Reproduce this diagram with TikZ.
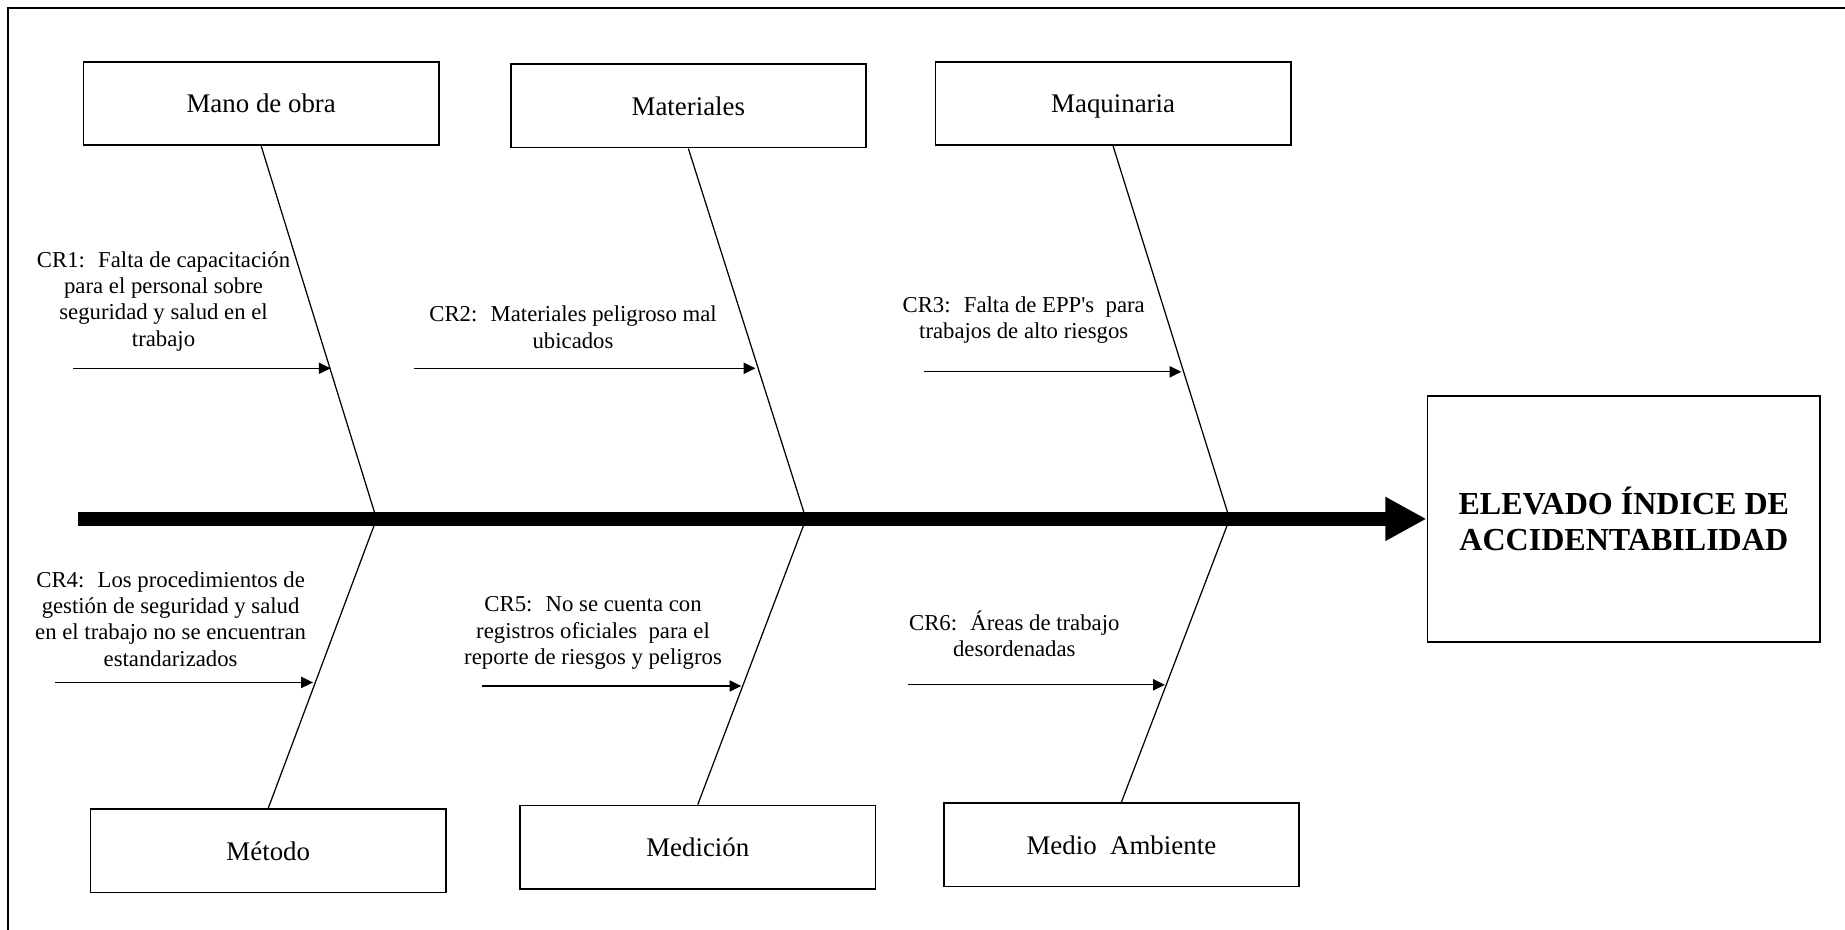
\documentclass[tikz,border=0pt]{standalone}
\usepackage{fontspec}
\setmainfont{Liberation Serif}
\usetikzlibrary{arrows.meta}

\begin{document}
\begin{tikzpicture}[
  x=0.02cm,y=-0.02cm,
  cat/.style={draw,line width=0.8pt,minimum width=6.04cm,minimum height=1.42cm,
              inner sep=0pt,text height=11pt,text depth=2pt,font=\fontsize{13}{15}\selectfont},
  eff/.style={draw,line width=0.8pt,minimum width=6.68cm,minimum height=4.18cm,
              align=center,inner sep=0pt,font=\fontsize{15.5}{17.6}\selectfont\bfseries},
  spine/.style={-{Triangle[length=0.7cm,width=0.7cm]},line width=0.24cm},
  bone/.style={line width=0.6pt},
  cause/.style={-{Triangle[length=0.2cm,width=0.19cm]},line width=0.6pt},
  lbl/.style={font=\fontsize{11}{12.7}\selectfont,align=center,inner sep=0pt},
  frame/.style={line width=1pt}
]
\useasboundingbox (0,0) rectangle (1568,790);
\draw[frame] (7,790) -- (7,7) -- (1568,7);

\node[cat] (mano) at (222,88)  {Mano de obra};
\node[cat] (mat)  at (585,90)  {Materiales};
\node[cat] (maq)  at (946,88)  {Maquinaria};
\node[cat] (met)  at (228,723) {Método};
\node[cat] (med)  at (593,720) {Medición};
\node[cat] (amb)  at (953,718) {Medio~ Ambiente};
\node[eff] (eff)  at (1380,441) {ELEVADO ÍNDICE DE\\ACCIDENTABILIDAD};

\coordinate (tail) at (66,441);
\coordinate (j1) at (320,441);
\coordinate (j2) at (685,441);
\coordinate (j3) at (1045,441);

\draw[spine] (tail) -- (eff);
\draw[bone] (mano.south) -- (j1) -- (met.north);
\draw[bone] (mat.south) -- (j2) -- (med.north);
\draw[bone] (maq.south) -- (j3) -- (amb.north);

\coordinate (s1) at (62,313);  \coordinate (e1) at (281,313);
\coordinate (s2) at (352,313); \coordinate (e2) at (642,313);
\coordinate (s3) at (785,316); \coordinate (e3) at (1004,316);
\coordinate (s4) at (47,580);  \coordinate (e4) at (266,580);
\coordinate (s5) at (410,583); \coordinate (e5) at (630,583);
\coordinate (s6) at (772,582); \coordinate (e6) at (990,582);

\draw[cause] (s1) -- (e1);
\draw[cause] (s2) -- (e2);
\draw[cause] (s3) -- (e3);
\draw[cause] (s4) -- (e4);
\draw[cause] (s5) -- (e5);
\draw[cause] (s6) -- (e6);

\node[lbl] (cr1) at (139,256) {CR1:~ Falta de capacitación\\para el personal sobre\\seguridad y salud en el\\trabajo};
\node[lbl] (cr2) at (487,278) {CR2:~ Materiales peligroso mal\\ubicados};
\node[lbl] (cr3) at (870,272) {CR3:~ Falta de EPP\textquotesingle s~ para\\trabajos de alto riesgos};
\node[lbl] (cr4) at (145,526) {CR4:~ Los procedimientos de\\gestión de seguridad y salud\\en el trabajo no se encuentran\\estandarizados};
\node[lbl] (cr5) at (504,538) {CR5:~ No se cuenta con\\registros oficiales~ para el\\reporte de riesgos y peligros};
\node[lbl] (cr6) at (862,539) {CR6:~ Áreas de trabajo\\desordenadas};
\end{tikzpicture}
\end{document}
